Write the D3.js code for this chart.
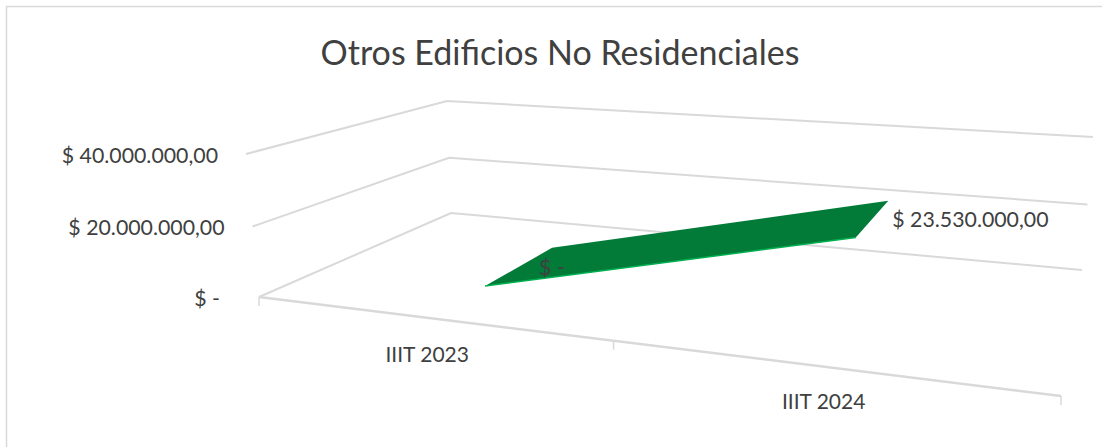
<!DOCTYPE html>
<html>
<head>
<meta charset="utf-8">
<script src="https://cdn.jsdelivr.net/npm/d3@7"></script>
<style>
	html, body { margin: 0; background: #fff; }
	svg { display: block; }
	text { font-family: Lato, "Noto Sans", sans-serif; fill: #404040; }
</style>
</head>
<body>
<script>
const title = "Otros Edificios No Residenciales";
const categories = ["IIIT 2023", "IIIT 2024"];
const values = [0, 23530000];
const value_labels = ["$ -", "$ 23.530.000,00"];
const y_ticks = [0, 20000000, 40000000];
const y_labels = ["$ -", "$ 20.000.000,00", "$ 40.000.000,00"];

const W = 1102, H = 447;

// the box as excel drew it: [front left, front right, back right, back left]
const floor_quad = [[259, 297], [1061, 396], [1082, 270], [451, 213]];
const top_quad = [[246, 154], [1077, 218], [1093, 137], [447, 101]];

const ribbon_depth = [0.29, 0.71];

// unit square to quad, projective
function homography(q) {
	const [[x0, y0], [x1, y1], [x2, y2], [x3, y3]] = q;

	const dx1 = x1 - x2, dx2 = x3 - x2, sx = x0 - x1 + x2 - x3;
	const dy1 = y1 - y2, dy2 = y3 - y2, sy = y0 - y1 + y2 - y3;

	const den = dx1 * dy2 - dx2 * dy1;
	const g = (sx * dy2 - dx2 * sy) / den;
	const h = (dx1 * sy - sx * dy1) / den;

	const a = x1 - x0 + g * x1, b = x3 - x0 + h * x3;
	const d = y1 - y0 + g * y1, e = y3 - y0 + h * y3;

	return (u, v) => {
		const w = g * u + h * v + 1;
		return [(a * u + b * v + x0) / w, (d * u + e * v + y0) / w];
	};
}

const on_floor = homography(floor_quad);
const on_top = homography(top_quad);

const xs = d3.scalePoint().domain(categories).range([0.005, 1]).padding(0.5);
// slightly bent, the walls shrink a bit going up
const ys = d3.scalePow().exponent(1.02).domain([0, 40000000]).range([0, 1]);

// t along the categories, d into the depth, val in pesos
function project(t, d, val) {
	const a = on_floor(t, d);
	const b = on_top(t, d);
	const k = ys(val);
	return [a[0] + (b[0] - a[0]) * k, a[1] + (b[1] - a[1]) * k];
}

const svg = d3.select('body').append('svg')
	.attr('width', W)
	.attr('height', H);

svg.append('path')
	.attr('d', `M${W},6.5H6.5V${H}`)
	.attr('fill', 'none')
	.attr('stroke', '#d9d9d9')
	.attr('stroke-width', 1.5);

svg.append('text')
	.attr('x', 560)
	.attr('y', 65)
	.attr('text-anchor', 'middle')
	.attr('font-size', 34)
	.text(title);

const line = d3.line();

// left wall and back wall gridlines
svg.append('g').selectAll('path')
	.data(y_ticks)
	.enter().append('path')
	.attr('d', v => line([project(0, 0, v), project(0, 1, v), project(1, 1, v)]))
	.attr('fill', 'none')
	.attr('stroke', '#d9d9d9')
	.attr('stroke-width', 2);

// front edge and its ticks
svg.append('path')
	.attr('d', line([project(0, 0, 0), project(1, 0, 0)]))
	.attr('stroke', '#d9d9d9')
	.attr('stroke-width', 2.5);

svg.append('g').selectAll('path')
	.data([0, 0.5, 1])
	.enter().append('path')
	.attr('d', t => {
		const p = project(t, 0, 0);
		return line([p, [p[0], p[1] + 9]]);
	})
	.attr('stroke', '#d9d9d9')
	.attr('stroke-width', 1.5);

const pts = categories.map((c, i) => ({
	front: project(xs(c), ribbon_depth[0], values[i]),
	back: project(xs(c), ribbon_depth[1], values[i]),
}));

svg.append('path')
	.attr('d', line([pts[0].front, pts[0].back, pts[1].back, pts[1].front]) + 'Z')
	.attr('fill', '#027a38');

svg.append('path')
	.attr('d', line([pts[0].front, pts[1].front]))
	.attr('fill', 'none')
	.attr('stroke', '#00b050')
	.attr('stroke-width', 1.5);

svg.append('g').selectAll('text')
	.data(y_ticks)
	.enter().append('text')
	.attr('x', v => project(0, 0, v)[0] - (v === 0 ? 39 : 28))
	.attr('y', v => project(0, 0, v)[1] + 9)
	.attr('text-anchor', 'end')
	.attr('font-size', 21.3)
	.text((v, i) => y_labels[i]);

// category labels sit below the front edge, nudged by hand
svg.append('g').selectAll('text')
	.data(categories)
	.enter().append('text')
	.attr('x', c => project(xs(c), 0, 0)[0] + (c === categories[0] ? -2 : -1))
	.attr('y', c => project(xs(c), 0, 0)[1] + (c === categories[0] ? 44 : 42))
	.attr('text-anchor', 'middle')
	.attr('font-size', 21)
	.text(c => c);

svg.append('text')
	.attr('x', pts[0].front[0] + 54)
	.attr('y', pts[0].front[1] - 11)
	.attr('font-size', 21.3)
	.text(value_labels[0]);

svg.append('text')
	.attr('x', pts[1].back[0] + 4)
	.attr('y', pts[1].back[1] + 26)
	.attr('font-size', 21.3)
	.text(value_labels[1]);
</script>
</body>
</html>
